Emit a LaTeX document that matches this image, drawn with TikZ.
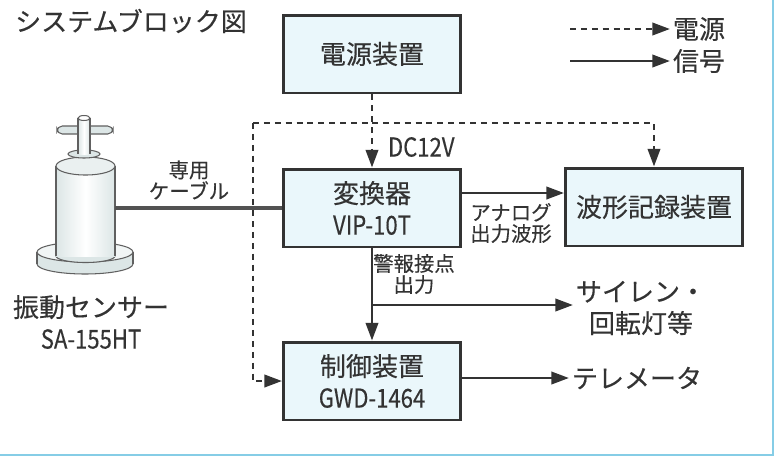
\documentclass[tikz,border=0pt]{standalone}
\usepackage{fontspec}
\setmainfont{Noto Sans CJK JP}[FakeBold=0.3]
\newfontfamily\halfw{Noto Sans CJK JP}[FakeStretch=0.85, FakeBold=0.3]
\usetikzlibrary{arrows.meta}
\definecolor{boxfill}{HTML}{EAF7FB}
\definecolor{ink}{HTML}{333333}
\definecolor{rim}{HTML}{86CDE6}
\definecolor{metal}{HTML}{DCE6E6}
\def\bigfont{\fontsize{14.8}{18}\selectfont}
\def\smallfont{\fontsize{11.6}{12}\selectfont}
\tikzset{
  blk/.style={draw=ink, line width=1.7pt, fill=boxfill, minimum width=3.54cm,
    minimum height=1.56cm, align=center, text=ink, font=\bigfont},
  bigtxt/.style={text=ink, align=center, font=\bigfont, inner sep=1.5pt},
  smalltxt/.style={text=ink, align=center, font=\smallfont, inner sep=1pt},
  sigarrow/.style={draw=ink, line width=1.5pt, -{Triangle[length=10pt,width=7pt]}},
  pwrarrow/.style={sigarrow, dash pattern=on 3.4pt off 2.8pt},
  pwrline/.style={draw=ink, line width=1.5pt, dash pattern=on 3.4pt off 2.8pt},
  cable/.style={draw=ink!85, line width=2.6pt},
  sensor/.style={draw=gray!75!black, line width=0.6pt, fill=metal},
}

\begin{document}
\begin{tikzpicture}[x=0.02cm, y=-0.02cm]
		%%%%% START %%%%%
		\useasboundingbox (0, 0) rectangle (778, 458);
		\draw[rim, line width=1.2pt] (773, 0) -- (773, 455) -- (0, 455);
		
		\node[bigtxt] (title) at (131, 21) {システムブロック図};
		
		% legend
		\node[bigtxt, anchor=west] (lgpwr) at (670, 29) {電源};
		\node[bigtxt, anchor=west] (lgsig) at (670, 61) {信号};
		\coordinate (lgpwr0) at (570, 29);
		\coordinate (lgsig0) at (570, 61);
		\draw[pwrarrow] (lgpwr0) -- (lgpwr.west);
		\draw[sigarrow] (lgsig0) -- (lgsig.west);
		
		% blocks
		\node[blk] (psu) at (372, 54) {電源装置};
		\node[blk] (conv) at (372, 208) {変換器\\{\halfw VIP-10T}};
		\node[blk] (rec) at (654, 207) {波形記録装置};
		\node[blk] (ctrl) at (372, 381) {制御装置\\{\halfw GWD-1464}};
		
		% power lines
		\coordinate (jn) at (372, 123);
		\coordinate (lft) at (253, 123);
		\draw[pwrarrow] (psu.south) -- (conv.north);
		\draw[pwrline] (lft) -- (jn);
		\draw[pwrarrow] (jn) -| (rec.north);
		\draw[pwrarrow] (lft) |- (ctrl.west);
		\node[bigtxt, anchor=west] (dc) at (385, 147) {\halfw DC12V};
		
		% signal lines
		\draw[sigarrow] (conv.east |- 0, 193) -- (rec.west |- 0, 193);
		\node[smalltxt] (ana) at (511, 223) {アナログ\\出力波形};
		
		\coordinate (br) at (372, 305);
		\node[bigtxt] (siren) at (641, 308) {サイレン・\\回転灯等};
		\draw[sigarrow] (conv.south) -- (ctrl.north);
		\draw[sigarrow] (br) -- (br -| siren.west);
		\node[smalltxt] (alarm) at (414, 274) {警報接点\\出力};
		
		\node[bigtxt, anchor=west] (tele) at (569, 378) {テレメータ};
		\draw[sigarrow] (ctrl.east |- tele.west) -- (tele.west);
		
		% sensor
		\draw[sensor, rounded corners=3pt] (57, 126) rectangle (113, 134);
		\draw[sensor] (85, 264) ellipse [x radius=0.96cm, y radius=0.2cm];
		\fill[metal] (37, 252) rectangle (133, 264);
		\draw[gray!75!black, line width=0.6pt] (37, 252) -- (37, 264) (133, 252) -- (133, 264);
		\draw[sensor, fill=metal!40] (85, 252) ellipse [x radius=0.96cm, y radius=0.2cm];
		\draw[sensor] (85.5, 256) ellipse [x radius=0.59cm, y radius=0.13cm];
		\shade[left color=metal, right color=metal, middle color=white] (56, 166) rectangle (115, 256);
		\draw[gray!75!black, line width=0.6pt] (56, 166) -- (56, 256) (115, 166) -- (115, 256);
		\draw[sensor, fill=metal!60] (85.5, 166) ellipse [x radius=0.59cm, y radius=0.18cm];
		\draw[sensor] (84, 154) ellipse [x radius=0.32cm, y radius=0.08cm];
		\shade[left color=metal, right color=metal, middle color=white] (78, 118) rectangle (90, 154);
		\draw[gray!75!black, line width=0.6pt] (78, 118) -- (78, 154) (90, 118) -- (90, 154);
		\draw[sensor, fill=white] (84, 118) ellipse [x radius=0.12cm, y radius=0.05cm];
		\node[bigtxt] (sname) at (91, 322) {振動センサー\\{\halfw SA-155HT}};
		
		% cable
		\coordinate (cab) at (115, 208);
		\draw[cable] (cab) -- (conv.west);
		\node[smalltxt] (cablbl) at (189, 180) {専用\\ケーブル};
		
		%%%%% END %%%%%
	\end{tikzpicture}
\end{document}
